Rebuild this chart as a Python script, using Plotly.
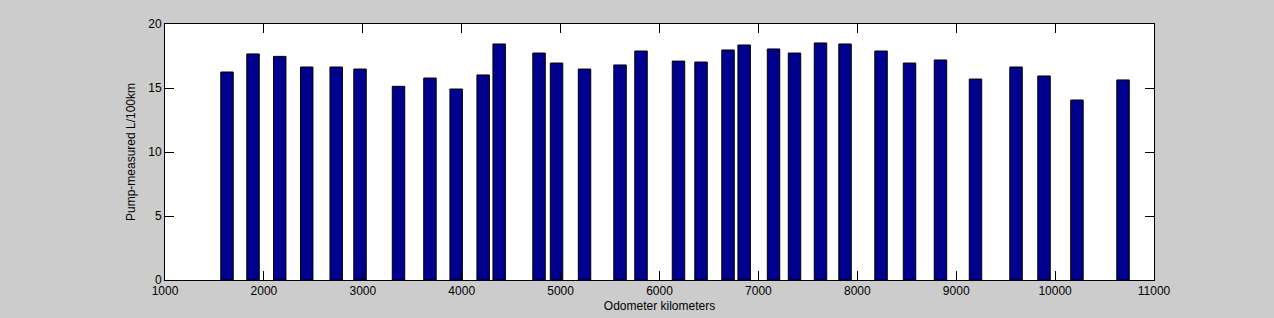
import plotly.graph_objects as go

odometer_km = [1627, 1890, 2160, 2433, 2731, 2972, 3361, 3679, 3944, 4217, 4379,
               4782, 4959, 5242, 5601, 5813, 6192, 6420, 6693, 6856, 7153, 7365,
               7628, 7876, 8240, 8528, 8841, 9195, 9605, 9888, 10221, 10687]
consumption = [16.25, 17.66, 17.47, 16.64, 16.64, 16.48, 15.13, 15.78, 14.92, 16.02, 18.44,
               17.73, 16.95, 16.48, 16.80, 17.89, 17.10, 17.03, 17.97, 18.36, 18.05, 17.73,
               18.52, 18.44, 17.89, 16.95, 17.19, 15.70, 16.64, 15.94, 14.06, 15.63]
x_ticks = [1000, 2000, 3000, 4000, 5000, 6000, 7000, 8000, 9000, 10000, 11000]
y_ticks = [0, 5, 10, 15, 20]

fig = go.Figure(go.Bar(
    x=odometer_km, y=consumption, width=126,
    marker=dict(color="#00008F", line=dict(color="black", width=1)),
))

font = dict(family="Liberation Sans, Arial, sans-serif", size=12, color="black")
fig.update_layout(
    width=1274, height=318,
    margin=dict(l=165, r=120, t=24, b=38, autoexpand=False),
    paper_bgcolor="#cccccc", plot_bgcolor="white",
    font=font, showlegend=False,
    xaxis=dict(range=[1000, 11000], tickvals=x_ticks, ticktext=[str(v) for v in x_ticks],
               ticks="inside", ticklen=9, tickcolor="black", showgrid=False, zeroline=False,
               showline=True, linecolor="black", linewidth=1, mirror="ticks",
               title=dict(text="Odometer kilometers", standoff=4, font=font), automargin=False),
    yaxis=dict(range=[0, 20], tickvals=y_ticks, ticktext=[str(v) for v in y_ticks],
               ticks="inside", ticklen=9, tickcolor="black", showgrid=False, zeroline=False,
               showline=True, linecolor="black", linewidth=1, mirror="ticks",
               title=dict(text="Pump-measured L/100km", standoff=10, font=font), automargin=False),
)
fig.write_html("out.html")
